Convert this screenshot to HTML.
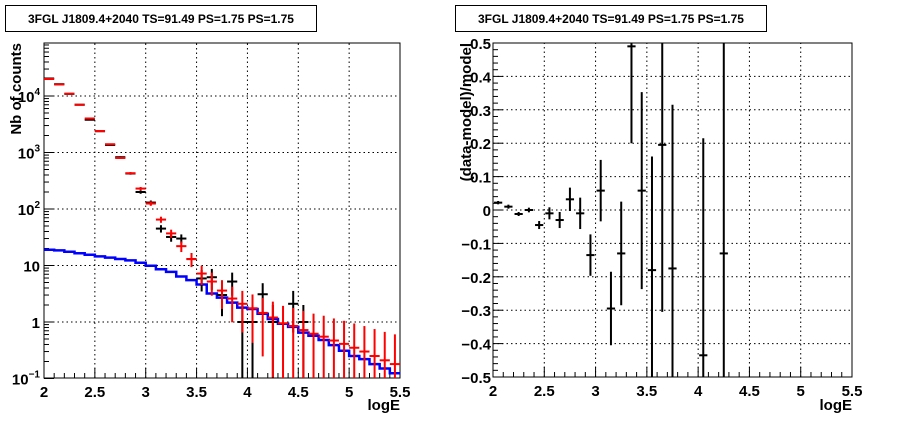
<!DOCTYPE html>
<html><head><meta charset="utf-8"><style>
body{margin:0;background:#fff;width:898px;height:421px;overflow:hidden;font-family:"Liberation Sans",sans-serif}
svg text{font-family:"Liberation Sans",sans-serif;font-weight:bold}
</style></head><body>
<svg id="c" width="898" height="421" xmlns="http://www.w3.org/2000/svg">
<rect x="0" y="0" width="898" height="421" fill="#fff"/>
<g><rect x="5.5" y="5.5" width="311" height="26" fill="#fff" stroke="#000"/><text x="161" y="23" font-size="12" text-anchor="middle">3FGL J1809.4+2040 TS=91.49 PS=1.75 PS=1.75</text></g>
<g><rect x="455.5" y="5.5" width="311" height="26" fill="#fff" stroke="#000"/><text x="611" y="23" font-size="12" text-anchor="middle">3FGL J1809.4+2040 TS=91.49 PS=1.75 PS=1.75</text></g>
<g id="L"></g>
<g id="R"></g>
</svg>
<script>
const binLow = 2.0, binW = 0.1, nBins = 35;
const modelCounts = [20000,16000,11000,7000,4000,2400,1400,800,430,230,125,65,37,22,13,7.2,5.2,3.6,2.6,2.1,1.75,1.45,1.2,0.95,0.85,0.72,0.62,0.55,0.47,0.41,0.35,0.3,0.25,0.21,0.18];
const dataCounts = [20400,16200,10900,7000,3800,2380,1360,825,425,200,130,45,32,30,13,5.9,6.2,3,5.2,1,1,3.1,1,0,2.1,1,0,0,0,0,0,0,0,0,0];
const bkgCounts = [19,18.5,17.5,16.5,15.5,14.5,13.8,13,12.3,11.2,9.9,8.6,7.7,6.4,5.5,4.6,3.2,2.7,2.2,1.8,1.7,1.4,1.13,0.93,0.82,0.65,0.57,0.48,0.39,0.31,0.25,0.22,0.18,0.15,0.124];
const resCenters = [2.05,2.15,2.25,2.35,2.45,2.55,2.65,2.75,2.85,2.95,3.05,3.15,3.25,3.35,3.45,3.55,3.65,3.75,4.05,4.25];
const resValues = [0.022,0.01,-0.012,0.0,-0.045,-0.01,-0.03,0.032,-0.01,-0.135,0.058,-0.295,-0.13,0.49,0.058,-0.18,0.195,-0.175,-0.435,-0.13];
const resErrors = [0.005,0.006,0.006,0.007,0.012,0.018,0.024,0.035,0.047,0.062,0.092,0.11,0.155,0.29,0.295,0.34,0.5,0.49,0.65,0.9];
const xTicks = [2,2.5,3,3.5,4,4.5,5,5.5];
const xTickLabels = ["2","2.5","3","3.5","4","4.5","5","5.5"];
const yLogTicks = [-1,0,1,2,3,4];
const yResTicks = [-0.5,-0.4,-0.3,-0.2,-0.1,0,0.1,0.2,0.3,0.4,0.5];
const yResLabels = ["\u22120.5","\u22120.4","\u22120.3","\u22120.2","\u22120.1","0","0.1","0.2","0.3","0.4","0.5"];

const NS="http://www.w3.org/2000/svg";
function mk(p,t,a){const e=document.createElementNS(NS,t);for(const k in a)e.setAttribute(k,a[k]);p.appendChild(e);return e;}
const LX0=44,LX1=400,LY0=43,LY1=378;
const RX0=493,RX1=852,RY0=43,RY1=377;
const lx=v=>LX0+(v-2)*(LX1-LX0)/3.5;
const ly=v=>{const l=Math.log10(Math.max(v,1e-9));return Math.min(LY1,Math.max(LY0,322-56.5*l));};
const rx=v=>RX0+(v-2)*(RX1-RX0)/3.5;
const ry=v=>Math.min(RY1,Math.max(RY0,RY1-(v+0.5)*(RY1-RY0)));
const L=document.getElementById('L'),R=document.getElementById('R');

function xAxis(g,X,x0,x1,yb,yt){
  for(let i=0;i<xTicks.length;i++){const v=xTicks[i],px=X(v);
    if(i>0&&i<xTicks.length-1){const gl=mk(g,'line',{x1:px,x2:px,y1:yb,y2:yt,stroke:'#000','stroke-dasharray':'1.5,3','stroke-width':1});}
    const t=mk(g,'line',{x1:px,x2:px,y1:yb,y2:yb-10,stroke:'#000'});
    const tx=mk(g,'text',{x:px,y:yb+19,'font-size':15,'text-anchor':'middle'});tx.textContent=xTickLabels[i];
    if(i<xTicks.length-1)for(let k=1;k<5;k++){const m=X(v+k*0.1);const mt=mk(g,'line',{x1:m,x2:m,y1:yb,y2:yb-5,stroke:'#000'});}
  }
}
// Left plot
mk(L,'rect',{x:LX0,y:LY0,width:LX1-LX0,height:LY1-LY0,fill:'none',stroke:'#000','stroke-width':1});
xAxis(L,lx,LX0,LX1,LY1,LY0);
for(const d of yLogTicks){const py=322-56.5*d;
  if(d>-1){const gl=mk(L,'line',{x1:LX0,x2:LX1,y1:py,y2:py,stroke:'#000','stroke-dasharray':'1.5,3'});}
  const t=mk(L,'line',{x1:LX0,x2:LX0+10,y1:py,y2:py,stroke:'#000'});
  const tx=mk(L,'text',{x:LX0-4,y:py+6,'font-size':15,'text-anchor':'end'});
  if(d===0)tx.textContent='1';else if(d===1)tx.textContent='10';else{tx.textContent='10';const s=mk(tx,'tspan',{dy:-7,'font-size':10});s.textContent=String(d).replace('-','\u2212');}
  
  for(let k=2;k<10;k++){const my=322-56.5*(d+Math.log10(k));if(my<LY0)continue;const mt=mk(L,'line',{x1:LX0,x2:LX0+5,y1:my,y2:my,stroke:'#000'});}
}
const yt=mk(L,'text',{x:0,y:0,'font-size':15,'text-anchor':'end',transform:'translate(21,43) rotate(-90)'});yt.textContent='Nb of counts';
const xt=mk(L,'text',{x:LX1,y:410,'font-size':15,'text-anchor':'end'});xt.textContent='logE';
// blue step
let pts=[];for(let i=0;i<nBins;i++){const a=lx(binLow+i*binW),b=lx(binLow+(i+1)*binW),y=ly(bkgCounts[i]);pts.push(a+','+y,b+','+y);}
const bl=mk(L,'polyline',{points:pts.join(' '),fill:'none',stroke:'#0000ff','stroke-width':2.5});
// black data
for(let i=0;i<nBins;i++){const v=dataCounts[i];if(v<=0)continue;const c=binLow+(i+0.5)*binW,e=Math.sqrt(v);
  const g=mk(L,'g',{});
  mk(g,'line',{x1:lx(c-0.05),x2:lx(c+0.05),y1:ly(v),y2:ly(v),stroke:'#000','stroke-width':2});
  mk(g,'line',{x1:lx(c),x2:lx(c),y1:ly(v+e),y2:ly(v-e),stroke:'#000','stroke-width':2});}
// red model
for(let i=0;i<nBins;i++){const v=modelCounts[i],c=binLow+(i+0.5)*binW,e=Math.sqrt(v);
  const g=mk(L,'g',{});
  mk(g,'line',{x1:lx(c-0.05),x2:lx(c+0.05),y1:ly(v),y2:ly(v),stroke:'#ff0000','stroke-width':2});
  mk(g,'line',{x1:lx(c),x2:lx(c),y1:ly(v+e),y2:ly(v-e),stroke:'#ff0000','stroke-width':2});}
// Right plot
mk(R,'rect',{x:RX0,y:RY0,width:RX1-RX0,height:RY1-RY0,fill:'none',stroke:'#000'});
xAxis(R,rx,RX0,RX1,RY1,RY0);
for(let i=0;i<yResTicks.length;i++){const v=yResTicks[i],py=ry(v);
  if(i>0&&i<yResTicks.length-1){const gl=mk(R,'line',{x1:RX0,x2:RX1,y1:py,y2:py,stroke:'#000','stroke-dasharray':'1.5,3'});}
  const t=mk(R,'line',{x1:RX0,x2:RX0+10,y1:py,y2:py,stroke:'#000'});
  const tx=mk(R,'text',{x:RX0-2,y:py+6,'font-size':15,'text-anchor':'end'});tx.textContent=yResLabels[i];
  if(i<yResTicks.length-1)for(let k=1;k<5;k++){const m=ry(v+k*0.02);const mt=mk(R,'line',{x1:RX0,x2:RX0+5,y1:m,y2:m,stroke:'#000'});}
}
const ryt=mk(R,'text',{x:0,y:0,'font-size':15,'text-anchor':'end',transform:'translate(471,43) rotate(-90)'});ryt.textContent='(data-model)/model';
const rxt=mk(R,'text',{x:RX1,y:410,'font-size':15,'text-anchor':'end'});rxt.textContent='logE';
for(let i=0;i<resCenters.length;i++){const c=resCenters[i],v=resValues[i],e=resErrors[i];
  const g=mk(R,'g',{});
  if(v>=-0.5&&v<=0.5)mk(g,'line',{x1:rx(c-0.04),x2:rx(c+0.04),y1:ry(v),y2:ry(v),stroke:'#000','stroke-width':2});
  mk(g,'line',{x1:rx(c),x2:rx(c),y1:ry(v+e),y2:ry(v-e),stroke:'#000','stroke-width':2});}
</script>
</body></html>
